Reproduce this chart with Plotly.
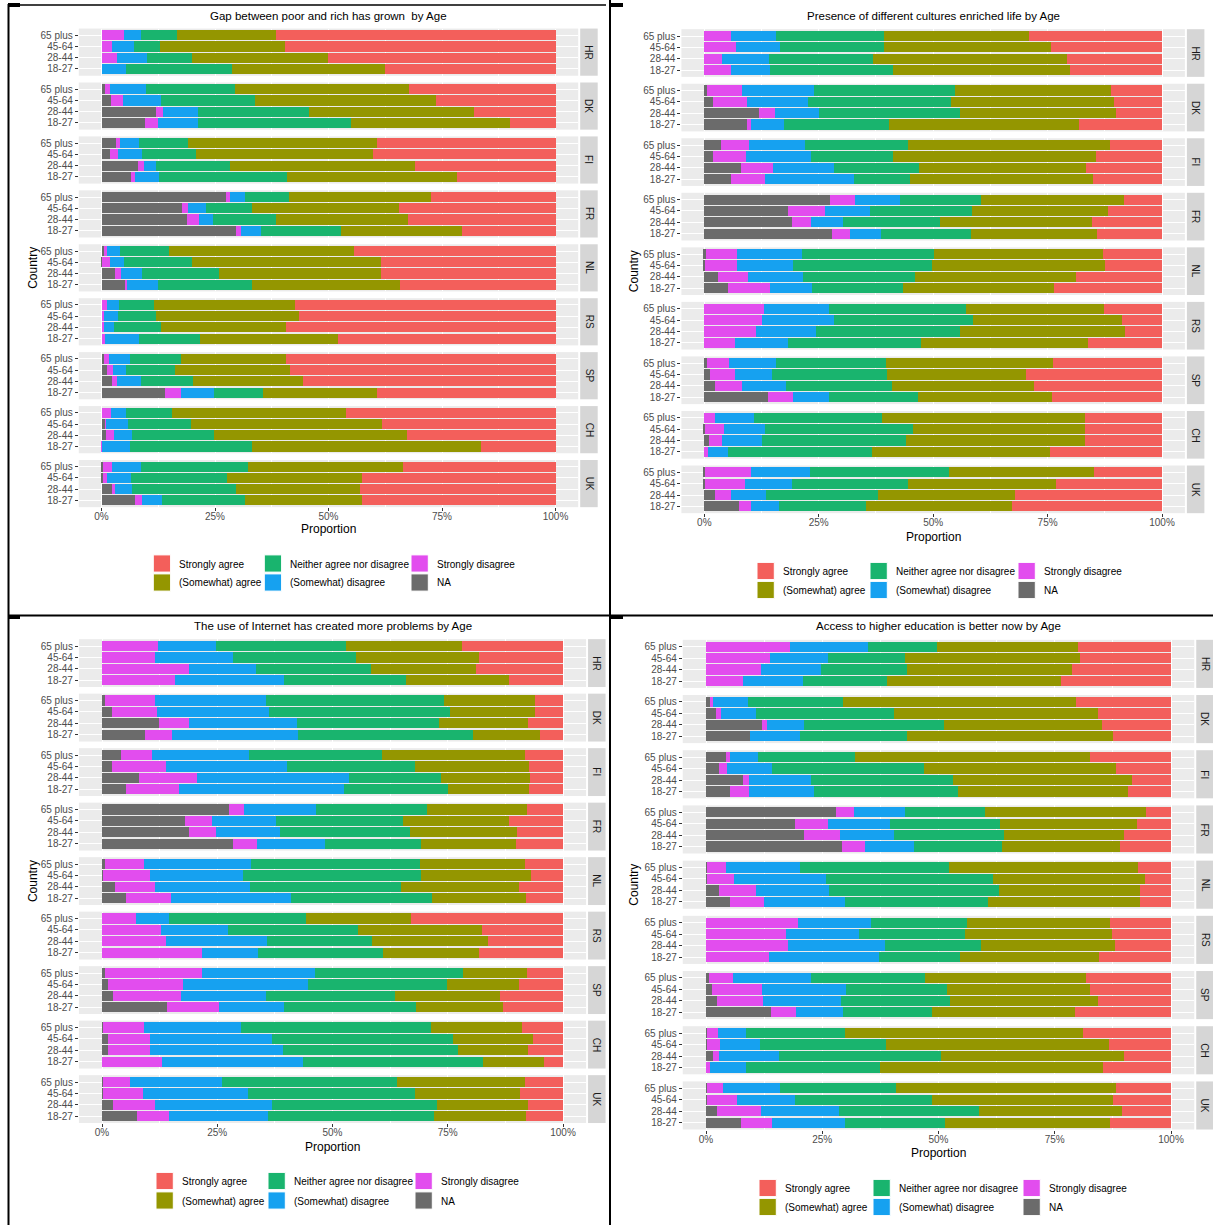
import plotly.graph_objects as go

countries = ["HR", "DK", "FI", "FR", "NL", "RS", "SP", "CH", "UK"]
ages = ["65 plus", "45-64", "28-44", "18-27"]
responses = ["NA", "Strongly disagree", "(Somewhat) disagree",
             "Neither agree nor disagree", "(Somewhat) agree", "Strongly agree"]
colors = ["#6B6B6B", "#E24DEE", "#16A1F0", "#19B46E", "#949600", "#F35F5B"]
titles = ["Gap between poor and rich has grown&nbsp; by Age",
          "Presence of different cultures enriched life by Age",
          "The use of Internet has created more problems by Age",
          "Access to higher education is better now by Age"]
x_ticks = [0, 0.25, 0.5, 0.75, 1.0]
x_ticklabels = ["0%", "25%", "50%", "75%", "100%"]

# values in %, order: country (HR..UK) x age (65 plus, 45-64, 28-44, 18-27)
gap_na = [0, 0, 0, 0, 0.8, 2.0, 12.0, 9.5, 3.1, 1.8, 8.1, 6.6, 27.4, 17.7, 18.8, 29.6, 0.6, 0.1, 3.0, 5.1,
          0, 0, 0, 0, 0.6, 1.3, 2.3, 14.0, 0, 0.8, 1.1, 0, 0.3, 0.3, 2.3, 7.4]
gap_sd = [4.9, 2.3, 3.5, 0, 1.0, 2.8, 1.5, 2.9, 1.0, 1.8, 1.2, 0.8, 1.0, 1.4, 2.7, 1.2, 0.6, 1.7, 1.2, 0.6,
          1.2, 0.6, 0.6, 0.8, 1.0, 1.2, 1.1, 3.4, 2.2, 0.3, 1.6, 0.1, 2.0, 1.0, 0.6, 1.6]
gap_d = [3.9, 4.9, 6.6, 5.4, 8.0, 8.2, 7.7, 8.8, 4.1, 5.4, 2.8, 5.2, 3.1, 3.9, 3.1, 4.3, 2.8, 3.1, 4.8, 6.7,
         2.7, 3.0, 2.1, 7.4, 4.7, 2.9, 5.2, 7.4, 3.2, 4.8, 4.0, 6.2, 6.5, 5.2, 3.8, 4.3]
gap_n = [7.8, 5.6, 9.9, 23.3, 19.6, 20.8, 24.6, 33.7, 10.9, 11.8, 16.3, 28.3, 9.9, 10.2, 13.8, 17.6,
         10.8, 15.1, 16.8, 20.8, 7.7, 8.4, 10.4, 13.5, 11.1, 10.7, 11.5, 10.7, 10.1, 13.8, 18.1, 26.9,
         23.4, 21.2, 22.9, 18.4]
gap_a = [21.9, 27.7, 29.8, 33.8, 38.3, 39.9, 36.3, 35.0, 41.6, 39.1, 40.7, 37.5, 31.2, 32.4, 29.2, 26.6,
         40.9, 41.5, 35.7, 32.6, 31.0, 31.5, 27.5, 30.4, 23.2, 25.5, 24.2, 25.2, 38.3, 42.1, 42.5, 50.3,
         34.2, 29.7, 27.3, 25.7]
gap_sa = [61.5, 59.5, 50.2, 37.5, 32.3, 26.3, 17.9, 10.1, 39.3, 40.1, 30.9, 21.6, 27.4, 34.4, 32.4, 20.7,
          44.3, 38.5, 38.5, 34.2, 57.4, 56.5, 59.4, 47.9, 59.4, 58.4, 55.7, 39.3, 46.2, 38.2, 32.7, 16.5,
          33.6, 42.6, 43.1, 42.6]

cult_na = [0, 0, 0, 0, 0.5, 2.0, 12.0, 9.4, 3.6, 1.8, 8.0, 5.8, 27.4, 18.3, 19.2, 27.9, 0.3, 0.2, 2.9, 5.1,
           0, 0, 0, 0, 0.5, 1.2, 2.3, 14.0, 0, 0.2, 1.0, 0, 0.2, 0.2, 2.3, 7.5]
cult_sd = [5.8, 6.9, 3.9, 5.9, 7.7, 7.4, 3.5, 0.8, 6.1, 7.3, 7.0, 7.5, 5.6, 8.1, 4.1, 3.9, 6.8, 7.0, 6.6, 9.3,
           13.1, 12.5, 11.2, 6.8, 4.9, 5.6, 5.9, 5.3, 2.3, 4.2, 2.9, 0.9, 10.1, 8.7, 3.6, 2.8]
cult_d = [9.9, 9.6, 10.2, 8.5, 15.7, 13.3, 9.5, 7.3, 12.3, 14.2, 13.4, 19.3, 9.8, 9.9, 7.1, 6.9,
          14.2, 12.2, 12.1, 9.2, 14.2, 15.9, 13.1, 11.4, 10.3, 8.0, 9.6, 8.0, 8.5, 8.9, 8.6, 4.3,
          12.7, 10.3, 7.5, 6.1]
cult_n = [23.6, 22.8, 22.8, 26.9, 30.8, 31.2, 30.8, 22.9, 22.4, 17.9, 18.4, 12.4, 17.7, 22.1, 21.2, 19.5,
          28.9, 30.4, 24.4, 19.8, 29.8, 30.4, 31.5, 29.1, 24.0, 25.2, 23.2, 19.3, 28.0, 32.2, 31.6, 31.5,
          30.5, 25.2, 24.5, 19.0]
cult_a = [31.6, 36.5, 42.3, 38.6, 34.1, 35.6, 34.1, 41.4, 44.2, 44.3, 36.5, 40.0, 31.1, 29.9, 33.0, 27.5,
          36.9, 37.7, 35.3, 33.1, 30.3, 32.4, 36.1, 36.5, 36.5, 30.2, 31.0, 29.4, 44.3, 37.6, 39.0, 38.9,
          31.6, 32.5, 29.9, 31.8]
cult_sa = [29.1, 24.2, 20.8, 20.1, 11.2, 10.5, 10.1, 18.2, 11.4, 14.5, 16.7, 15.0, 8.4, 11.7, 15.4, 14.3,
           12.9, 12.5, 18.7, 23.5, 12.6, 8.8, 8.1, 16.2, 23.8, 29.8, 28.0, 24.0, 16.9, 16.9, 16.9, 24.4,
           14.9, 23.1, 32.2, 32.8]

net_na = [0, 0, 0, 0, 0.7, 2.1, 12.3, 9.4, 4.2, 2.1, 8.0, 5.1, 27.5, 17.9, 18.8, 28.4, 0.6, 0.3, 2.9, 5.1,
          0, 0, 0, 0, 0.6, 1.3, 2.4, 14.0, 0.3, 1.3, 1.2, 0, 0.3, 0.3, 2.4, 7.5]
net_sd = [12.2, 11.6, 18.9, 15.9, 10.8, 9.9, 6.6, 5.8, 6.6, 11.8, 12.6, 11.7, 3.3, 5.9, 6.0, 5.3,
          8.6, 10.2, 8.7, 9.9, 7.4, 12.9, 13.9, 21.7, 21.1, 16.2, 14.8, 11.3, 8.8, 9.2, 9.2, 13.1,
          5.7, 8.7, 9.2, 7.1]
net_d = [12.6, 16.9, 14.4, 23.5, 24.1, 24.3, 23.3, 27.3, 21.1, 26.3, 32.9, 35.6, 15.7, 14.0, 13.8, 14.6,
         23.2, 20.0, 20.4, 25.9, 7.2, 14.4, 21.8, 12.2, 24.6, 27.1, 18.3, 14.1, 21.1, 26.3, 28.8, 30.4,
         20.1, 22.7, 25.2, 21.3]
net_n = [28.2, 26.6, 25.0, 26.6, 38.6, 39.2, 31.0, 37.9, 28.8, 27.6, 20.1, 22.7, 24.1, 27.6, 28.3, 20.8,
         36.5, 38.7, 32.8, 30.6, 29.7, 28.3, 22.9, 27.1, 32.1, 30.3, 28.0, 28.7, 41.1, 39.4, 38.1, 39.1,
         38.0, 36.1, 35.8, 36.1]
net_a = [25.2, 26.6, 22.8, 22.2, 19.7, 18.4, 19.3, 14.7, 31.0, 24.9, 19.2, 17.6, 21.5, 22.8, 23.1, 20.8,
         22.8, 23.9, 25.6, 20.4, 22.8, 26.9, 25.1, 20.8, 13.8, 15.5, 22.8, 18.8, 19.8, 17.3, 15.1, 13.2,
         27.6, 22.8, 19.8, 19.9]
net_sa = [21.8, 18.3, 18.9, 11.8, 6.1, 6.1, 7.5, 4.9, 8.3, 7.3, 7.2, 7.3, 7.9, 11.8, 10.0, 10.1,
          8.3, 6.9, 9.6, 8.1, 32.9, 17.5, 16.3, 18.2, 7.8, 9.6, 13.7, 13.1, 8.9, 6.5, 7.6, 4.2,
          8.3, 9.4, 7.6, 8.1]

edu_na = [0, 0, 0, 0, 0.8, 2.1, 12.1, 9.4, 4.4, 2.7, 8.0, 5.1, 28.0, 19.1, 21.1, 29.3, 0.3, 0.3, 2.9, 5.1,
          0, 0, 0, 0, 0.6, 1.3, 2.3, 14.0, 0.2, 0.3, 1.6, 0, 0.3, 0.3, 2.3, 7.5]
edu_sd = [18.0, 13.7, 11.8, 8.0, 0.6, 1.2, 1.0, 0, 0.8, 1.9, 1.3, 4.2, 3.9, 7.2, 7.7, 5.0, 4.0, 5.7, 7.9, 7.3,
          19.8, 17.2, 17.7, 13.5, 5.2, 10.7, 9.9, 5.3, 2.3, 2.8, 1.1, 0.9, 3.4, 6.3, 9.5, 6.7]
edu_d = [16.9, 12.6, 12.9, 12.8, 7.7, 7.5, 7.9, 10.9, 5.9, 9.6, 13.3, 14.0, 11.0, 13.3, 11.6, 10.5,
         15.9, 19.7, 15.6, 17.4, 15.7, 15.6, 20.7, 23.7, 16.8, 18.1, 16.8, 10.1, 6.0, 8.6, 12.9, 7.8,
         12.2, 12.5, 16.9, 15.7]
edu_n = [14.7, 16.6, 18.6, 18.2, 20.3, 29.7, 30.2, 23.0, 21.0, 32.7, 30.6, 30.9, 17.2, 23.6, 23.7, 18.9,
         32.0, 36.0, 36.6, 30.8, 20.7, 22.8, 20.8, 17.4, 24.6, 21.7, 23.5, 19.2, 21.4, 27.0, 35.0, 28.7,
         25.0, 29.5, 30.0, 21.6]
edu_a = [30.5, 37.5, 35.4, 37.3, 50.2, 43.9, 33.9, 44.2, 50.4, 41.3, 38.5, 36.5, 34.6, 29.4, 25.7, 25.4,
         40.6, 32.8, 30.3, 32.7, 30.6, 31.7, 28.7, 29.9, 34.5, 30.7, 31.7, 30.7, 51.2, 48.0, 39.3, 47.9,
         47.3, 38.9, 30.7, 35.3]
edu_sa = [19.9, 19.6, 21.3, 23.7, 20.4, 15.6, 14.9, 12.5, 17.5, 11.8, 8.3, 9.3, 5.3, 7.4, 10.2, 10.9,
          7.2, 5.5, 6.7, 6.7, 13.2, 12.7, 12.1, 15.5, 18.3, 17.5, 15.8, 20.7, 18.9, 13.3, 10.1, 14.7,
          11.8, 12.5, 10.6, 13.2]

panel_series = [
    [gap_na, gap_sd, gap_d, gap_n, gap_a, gap_sa],
    [cult_na, cult_sd, cult_d, cult_n, cult_a, cult_sa],
    [net_na, net_sd, net_d, net_n, net_a, net_sa],
    [edu_na, edu_sd, edu_d, edu_n, edu_a, edu_sa],
]

# pixel layout of each of the four pasted ggplot panels
panel_geo = [
    dict(x0=101.5, x1=555.5, y0=35.3, fs=53.93, bs=11.23, propy=529.3, cx=33,
         legx=[153.3, 264.3, 411.0], legy=[563.5, 582.5], ty=16),
    dict(x0=704.3, x1=1162.0, y0=36.0, fs=54.54, bs=11.35, propy=536.7, cx=634,
         legx=[757.0, 870.0, 1018.0], legy=[571.0, 590.0], ty=16),
    dict(x0=102.0, x1=563.0, y0=646.0, fs=54.5, bs=11.4, propy=1146.7, cx=33,
         legx=[156.0, 268.0, 415.0], legy=[1181.0, 1200.5], ty=626),
    dict(x0=706.0, x1=1171.0, y0=646.7, fs=55.2, bs=11.45, propy=1152.7, cx=634,
         legx=[759.0, 873.0, 1023.0], legy=[1188.0, 1207.0], ty=626),
]

W, H = 1213, 1225
FONT = "Liberation Sans, Arial, Helvetica, sans-serif"


def px(x):
    return x / W


def py(y):
    return 1 - y / H


fig = go.Figure()
shapes = []
annotations = []
axes = {}
k = 0
for p, (series, g) in enumerate(zip(panel_series, panel_geo)):
    span = g["x1"] - g["x0"]
    left, right = g["x0"] - 0.05 * span, g["x1"] + 0.05 * span
    first_top = None
    last_bot = None
    for f, c in enumerate(countries):
        k += 1
        xs = "x" if k == 1 else f"x{k}"
        ys = "y" if k == 1 else f"y{k}"
        totals = [sum(s[4 * f + i] for s in series) for i in range(4)]
        for s, col, name in zip(series, colors, responses):
            vals = [s[4 * f + i] / totals[i] for i in range(4)]
            fig.add_trace(go.Bar(x=vals, y=ages, orientation="h", name=name,
                                 marker=dict(color=col, line=dict(width=0)),
                                 width=0.9, xaxis=xs, yaxis=ys, showlegend=False))
        y65 = g["y0"] + f * g["fs"]
        top = y65 - 0.6 * g["bs"]
        bot = y65 + 3.6 * g["bs"]
        if first_top is None:
            first_top = top
        last_bot = bot
        last = f == len(countries) - 1
        axes["xaxis" if k == 1 else f"xaxis{k}"] = dict(
            domain=[px(left), px(right)], range=[-0.05, 1.05], anchor=ys,
            tickmode="array", tickvals=x_ticks, ticktext=x_ticklabels, showticklabels=last,
            ticks="outside" if last else "", ticklen=3, tickcolor="#333333",
            ticklabelstandoff=-3,
            tickfont=dict(size=10, color="#4D4D4D", family=FONT),
            showgrid=True, gridcolor="white", gridwidth=1.1, zeroline=False,
            minor=dict(tickvals=[0.125, 0.375, 0.625, 0.875], showgrid=True,
                       gridcolor="white", gridwidth=0.5),
            fixedrange=True, showline=False)
        axes["yaxis" if k == 1 else f"yaxis{k}"] = dict(
            domain=[py(bot), py(top)], anchor=xs, type="category",
            categoryorder="array", categoryarray=ages[::-1], range=[-0.6, 3.6],
            tickmode="array", tickvals=ages, ticktext=ages,
            ticks="outside", ticklen=3, tickcolor="#333333",
            tickfont=dict(size=10, color="#4D4D4D", family=FONT),
            showgrid=True, gridcolor="white", gridwidth=1.1, zeroline=False,
            fixedrange=True, showline=False)
        # facet strip
        shapes.append(dict(type="rect", xref="paper", yref="paper",
                           x0=px(right + 2), x1=px(right + 19.5), y0=py(bot), y1=py(top),
                           fillcolor="#D6D6D6", line=dict(width=0), layer="below"))
        annotations.append(dict(text=c, xref="paper", yref="paper",
                                x=px(right + 10.75), y=py((top + bot) / 2), showarrow=False,
                                textangle=90, xanchor="center", yanchor="middle",
                                font=dict(size=10, color="#1A1A1A", family=FONT)))
    # title, axis titles
    annotations.append(dict(text=titles[p], xref="paper", yref="paper",
                            x=px((g["x0"] + g["x1"]) / 2), y=py(g["ty"]), showarrow=False,
                            xanchor="center", yanchor="middle",
                            font=dict(size=11.5, color="black", family=FONT)))
    annotations.append(dict(text="Proportion", xref="paper", yref="paper",
                            x=px((g["x0"] + g["x1"]) / 2), y=py(g["propy"]), showarrow=False,
                            xanchor="center", yanchor="middle",
                            font=dict(size=12, color="black", family=FONT)))
    annotations.append(dict(text="Country", xref="paper", yref="paper",
                            x=px(g["cx"]), y=py((first_top + last_bot) / 2), showarrow=False,
                            textangle=-90, xanchor="center", yanchor="middle",
                            font=dict(size=12, color="black", family=FONT)))
    # manual legend (ggplot fills columns first)
    legend_order = [5, 4, 3, 2, 1, 0]
    for j, ri in enumerate(legend_order):
        col_i, row_i = j // 2, j % 2
        kx = g["legx"][col_i]
        ky = g["legy"][row_i]
        shapes.append(dict(type="rect", xref="paper", yref="paper",
                           x0=px(kx), x1=px(kx + 17.3), y0=py(ky + 8.6), y1=py(ky - 8.6),
                           fillcolor=colors[ri], line=dict(color="white", width=1)))
        annotations.append(dict(text=responses[ri], xref="paper", yref="paper",
                                x=px(kx + 24), y=py(ky + 0.5), showarrow=False,
                                xanchor="left", yanchor="middle",
                                font=dict(size=10, color="black", family=FONT)))


# black frame lines of the pasted composite
def line(xa, ya, xb, yb, w):
    shapes.append(dict(type="line", xref="paper", yref="paper",
                       x0=px(xa), y0=py(ya), x1=px(xb), y1=py(yb),
                       line=dict(color="black", width=w)))


line(610, 0, 610, 1225, 2)
line(8, 615.5, 1213, 615.5, 2)
line(8, 5, 606, 5, 1.5)
line(8.5, 4, 8.5, 1225, 2)
line(8, 5, 20, 5, 4)
line(610, 5, 623, 5, 4)
line(8, 617, 20, 617, 4)
line(610, 617, 623, 617, 4)

fig.update_layout(
    width=W, height=H, margin=dict(l=0, r=0, t=0, b=0),
    paper_bgcolor="white", plot_bgcolor="#EBEBEB",
    barmode="stack", showlegend=False,
    font=dict(family=FONT),
    shapes=shapes, annotations=annotations, **axes)

fig.write_html("out.html", config={"displayModeBar": False},
               post_script="document.body.style.margin='0';document.body.style.overflow='hidden';")
